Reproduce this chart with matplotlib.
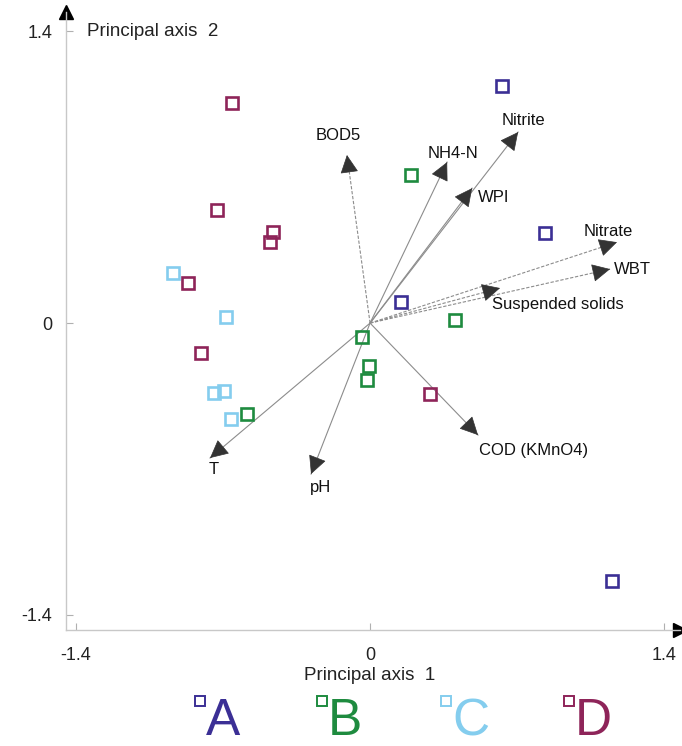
import numpy as np
import matplotlib
matplotlib.use("Agg")
import matplotlib.pyplot as plt

plt.rcParams['font.family'] = ['Liberation Sans', 'DejaVu Sans']

# sample scores (principal axis 1, principal axis 2)
A_x = [0.629, 0.833, 0.148, 1.152]
A_y = [1.137, 0.432, 0.101, -1.237]
B_x = [0.195, 0.405, -0.038, -0.005, -0.014, -0.586]
B_y = [0.710, 0.014, -0.067, -0.206, -0.273, -0.436]
C_x = [-0.938, -0.686, -0.695, -0.743, -0.662]
C_y = [0.240, 0.029, -0.326, -0.336, -0.460]
D_x = [-0.657, -0.729, -0.462, -0.476, -0.867, -0.805, 0.286]
D_y = [1.055, 0.542, 0.436, 0.388, 0.192, -0.144, -0.341]

# variable loadings
var_names = ['BOD5', 'NH4-N', 'WPI', 'Nitrite', 'Nitrate', 'WBT',
             'Suspended solids', 'COD (KMnO4)', 'pH', 'T']
var_x = [-0.110, 0.367, 0.486, 0.705, 1.176, 1.143, 0.619, 0.514, -0.281, -0.762]
var_y = [0.806, 0.772, 0.647, 0.916, 0.388, 0.259, 0.168, -0.537, -0.724, -0.647]

groups = ['A', 'B', 'C', 'D']
colors = ['#3b2f95', '#1e8b3f', '#84cdee', '#8e2459']

# label offsets in pixels from the arrow tip
lab_off = {'BOD5': (-9, 20), 'NH4-N': (6, 9), 'WPI': (22, -9), 'Nitrite': (5, 12),
           'Nitrate': (-9, 11), 'WBT': (22, 0), 'Suspended solids': (58, -16),
           'COD (KMnO4)': (56, -15), 'pH': (9, -13), 'T': (4, -12)}
dashed = ['BOD5', 'Nitrate', 'WBT', 'Suspended solids']

fig = plt.figure(figsize=(6.82, 7.46), dpi=100)
ax = fig.add_axes([66/682, 1-630/746, 614/682, 618/746])
ax.set_xlim(-1.448, 1.476)
ax.set_ylim(-1.472, 1.492)

for s in ['top', 'right']:
    ax.spines[s].set_visible(False)
for s in ['left', 'bottom']:
    ax.spines[s].set_color('#c8c8c8')
    ax.spines[s].set_linewidth(1.0)
ax.set_xticks([-1.4, 0, 1.4])
ax.set_xticklabels(['-1.4', '0', '1.4'])
ax.set_yticks([-1.4, 0, 1.4])
ax.set_yticklabels(['-1.4', '0', '1.4'])
ax.tick_params(direction='in', length=5, color='#b0b0b0', labelsize=13,
               labelcolor='#222222')
ax.tick_params(axis='x', pad=12)
ax.tick_params(axis='y', pad=10)

# axis arrow heads
ax.plot([0], [1], marker='^', color='black', markersize=10,
        transform=ax.transAxes, clip_on=False)
ax.plot([1], [0], marker='>', color='black', markersize=10,
        transform=ax.transAxes, clip_on=False)

ax.text(-1.35, 1.4, 'Principal axis  2', fontsize=13.5, va='center', ha='left',
        color='#222222')
fig.text(370/682, 1-676/746, 'Principal axis  1', fontsize=13.5, ha='center',
         va='center', color='#222222')

# loading arrows
for name, vx, vy in zip(var_names, var_x, var_y):
    ls = (0, (3, 1.5)) if name in dashed else '-'
    ax.plot([0, vx], [0, vy], color='#8c8c8c', lw=0.8, linestyle=ls, zorder=2)
    u = np.array([vx, vy]) / np.hypot(vx, vy)
    ax.annotate('', xy=(vx, vy), xytext=(vx - 0.05*u[0], vy - 0.05*u[1]),
                arrowprops=dict(arrowstyle='-|>,head_length=0.9,head_width=0.45',
                                color='#333333', lw=0.5, mutation_scale=13,
                                shrinkA=0, shrinkB=0), zorder=3)
    ax.annotate(name, xy=(vx, vy), xytext=lab_off[name], textcoords='offset pixels',
                ha='center', va='center', fontsize=12, color='#111111')

# sample points
for g, xs, ys, c in zip(groups, [A_x, B_x, C_x, D_x], [A_y, B_y, C_y, D_y], colors):
    ax.plot(xs, ys, 's', markersize=8.5, markerfacecolor='none',
            markeredgecolor=c, markeredgewidth=1.9, linestyle='none', zorder=4)

# group legend at the bottom
lax = fig.add_axes([0, 0, 1, 1-680/746])
lax.set_xlim(0, 682)
lax.set_ylim(66, 0)
lax.axis('off')
leg_x = [200, 322, 446, 569]
for i, (g, c) in enumerate(zip(groups, colors)):
    lax.plot(leg_x[i], 21, 's', markersize=7.5, markerfacecolor='none',
             markeredgecolor=c, markeredgewidth=1.4)
    lax.text(leg_x[i] + 6, 66, g, fontsize=37, color=c, ha='left', va='bottom',
             family=['Liberation Sans Narrow', 'Liberation Sans'])

fig.savefig('out.png', dpi=100)
